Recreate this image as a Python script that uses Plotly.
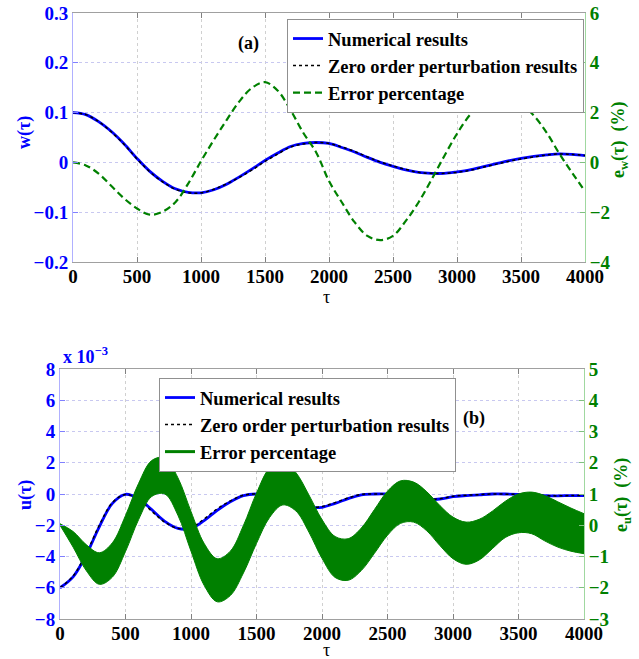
import plotly.graph_objects as go

# ---------------- data ----------------
# Panel (a)
tau_a = [0, 100, 200, 300, 400, 500, 600, 700, 800, 900, 1000,
         1100, 1200, 1300, 1400, 1500, 1600, 1700, 1800, 1900, 2000,
         2100, 2200, 2300, 2400, 2500, 2600, 2700, 2800, 2900, 3000,
         3100, 3200, 3300, 3400, 3500, 3600, 3700, 3800, 3900, 4000]
w_num = [0.100, 0.096, 0.082, 0.062, 0.037, 0.008, -0.018, -0.038, -0.053, -0.060, -0.061,
         -0.055, -0.044, -0.029, -0.013, 0.004, 0.019, 0.032, 0.038, 0.040, 0.038,
         0.030, 0.021, 0.010, 0.000, -0.008, -0.015, -0.020, -0.022, -0.022, -0.019,
         -0.015, -0.009, -0.003, 0.003, 0.008, 0.012, 0.015, 0.017, 0.016, 0.0135]
w_zero = [0.100, 0.096, 0.082, 0.061, 0.036, 0.007, -0.019, -0.039, -0.054, -0.061, -0.061,
          -0.054, -0.043, -0.030, -0.015, 0.002, 0.017, 0.031, 0.037, 0.040, 0.038,
          0.031, 0.022, 0.011, 0.001, -0.007, -0.014, -0.020, -0.022, -0.022, -0.020,
          -0.016, -0.010, -0.004, 0.002, 0.007, 0.011, 0.015, 0.017, 0.016, 0.014]
e_w = [0.0, -0.12, -0.45, -0.95, -1.45, -1.85, -2.1, -1.98, -1.6, -0.85, 0.05,
       0.9, 1.7, 2.45, 3.0, 3.22, 2.88, 2.1, 1.18, 0.4, -0.75,
       -1.6, -2.4, -2.95, -3.12, -2.95, -2.35, -1.6, -0.7, 0.25, 1.15,
       1.9, 2.4, 2.65, 2.63, 2.35, 1.88, 1.2, 0.35, -0.42, -1.16]

# Panel (b)  (u in units of 1e-3)
tau_b = tau_a
u_num = [-6.0, -5.3, -3.9, -2.1, -0.6, -0.02, -0.3, -1.0, -1.75, -2.2, -2.2,
         -1.7, -1.05, -0.5, -0.1, 0.0, -0.1, -0.35, -0.65, -0.85, -0.85,
         -0.6, -0.3, -0.05, 0.0, 0.0, -0.1, -0.25, -0.35, -0.32, -0.17,
         -0.1, -0.05, 0.0, 0.0, -0.02, -0.05, -0.1, -0.12, -0.1, -0.1]
u_zero = [-6.0, -5.25, -3.8, -2.0, -0.55, -0.03, -0.35, -1.1, -1.8, -2.2, -2.15,
          -1.6, -0.95, -0.45, -0.08, 0.0, -0.12, -0.4, -0.7, -0.85, -0.8,
          -0.55, -0.25, -0.03, 0.0, -0.02, -0.12, -0.28, -0.36, -0.3, -0.15,
          -0.08, -0.04, 0.0, -0.01, -0.03, -0.07, -0.11, -0.12, -0.1, -0.09]
# envelope of the rapidly oscillating error e_u (right axis, %)
e_u_upper = [0.05, -0.2, -0.62, -0.88, -0.56, 0.31, 1.34, 2.07, 2.16, 1.52, 0.44,
             -0.58, -1.07, -0.83, -0.01, 1.03, 1.83, 2.04, 1.69, 0.97, 0.18,
             -0.36, -0.43, -0.09, 0.50, 1.09, 1.42, 1.38, 1.07, 0.63, 0.26,
             0.1, 0.19, 0.45, 0.77, 1.0, 1.06, 0.95, 0.75, 0.55, 0.37]
e_u_lower = [0.0, -0.7, -1.45, -1.89, -1.66, -0.84, 0.18, 0.92, 1.0, 0.32, -0.83,
             -1.92, -2.45, -2.25, -1.53, -0.58, 0.25, 0.65, 0.46, -0.22, -1.06,
             -1.67, -1.76, -1.45, -0.9, -0.32, 0.06, 0.10, -0.18, -0.65, -1.07,
             -1.25, -1.11, -0.75, -0.39, -0.24, -0.27, -0.5, -0.7, -0.83, -0.91]

x_ticks = [0, 500, 1000, 1500, 2000, 2500, 3000, 3500, 4000]
names = ["Numerical results", "Zero order perturbation results", "Error percentage"]

# ---------------- style ----------------
W, H = 639, 659
FONT = "Liberation Serif"
BLUE = "#0000ff"
GREEN = "#008000"
TICK = 19


def px_x(p):
    return p / W


def px_y(p):
    return 1 - p / H


fig = go.Figure()

# Panel (a)
fig.add_trace(go.Scatter(x=tau_a, y=w_num, mode="lines", name=names[0],
                         line=dict(color=BLUE, width=2.8, shape="spline"),
                         xaxis="x", yaxis="y", legend="legend"))
fig.add_trace(go.Scatter(x=tau_a, y=w_zero, mode="lines", name=names[1],
                         line=dict(color="black", width=1.5, dash="dot", shape="spline"),
                         xaxis="x", yaxis="y", legend="legend"))
fig.add_trace(go.Scatter(x=tau_a, y=e_w, mode="lines", name=names[2],
                         line=dict(color=GREEN, width=2.2, dash="7px,4px", shape="spline"),
                         xaxis="x", yaxis="y2", legend="legend"))

# Panel (b)
fig.add_trace(go.Scatter(x=tau_b, y=u_num, mode="lines", name=names[0],
                         line=dict(color=BLUE, width=2.8, shape="spline"),
                         xaxis="x2", yaxis="y3", legend="legend2"))
fig.add_trace(go.Scatter(x=tau_b, y=u_zero, mode="lines", name=names[1],
                         line=dict(color="black", width=1.5, dash="dot", shape="spline"),
                         xaxis="x2", yaxis="y3", legend="legend2"))
fig.add_trace(go.Scatter(x=tau_b, y=e_u_lower, mode="lines", showlegend=False,
                         line=dict(color=GREEN, width=1, shape="spline"),
                         xaxis="x2", yaxis="y4", hoverinfo="skip"))
fig.add_trace(go.Scatter(x=tau_b, y=e_u_upper, mode="lines", showlegend=False,
                         line=dict(color=GREEN, width=1, shape="spline"),
                         fill="tonexty", fillcolor=GREEN,
                         xaxis="x2", yaxis="y4", hoverinfo="skip"))
fig.add_trace(go.Scatter(x=[None], y=[None], mode="lines", name=names[2],
                         line=dict(color=GREEN, width=3),
                         xaxis="x2", yaxis="y4", legend="legend2"))

tickfont_x = dict(family=FONT, size=TICK, color="black", weight="bold")
grid_common = dict(showgrid=True, griddash="dot", gridwidth=1, automargin=False)


def xaxis(domain, anchor):
    return dict(domain=domain, anchor=anchor, range=[0, 4000], tickvals=x_ticks,
                ticks="inside", ticklen=5, tickcolor="#808080",
                showline=True, linecolor="#a0a0a0", mirror="ticks",
                gridcolor="#d0d0d0", tickfont=tickfont_x, zeroline=False,
                ticklabelstandoff=-3,
                **grid_common)


def yleft(domain, anchor, rng, dtick):
    return dict(domain=domain, anchor=anchor, range=rng, dtick=dtick,
                ticks="inside", ticklen=5, tickcolor="#8080ff",
                showline=True, linecolor="#b0b0ff", zeroline=False,
                gridcolor="#c8c8f0",
                tickfont=dict(family=FONT, size=TICK, color=BLUE, weight="bold"),
                **grid_common)


def yright(over, anchor, rng, dtick):
    return dict(overlaying=over, side="right", anchor=anchor, range=rng, dtick=dtick,
                ticks="inside", ticklen=5, tickcolor="#80c080",
                showline=True, linecolor="#a0d8a0", zeroline=False, showgrid=False,
                automargin=False,
                tickfont=dict(family=FONT, size=TICK, color=GREEN, weight="bold"))


top_dom_x = [px_x(73), px_x(585)]
top_dom_y = [px_y(262), px_y(13)]
bot_dom_x = [px_x(60), px_x(584)]
bot_dom_y = [px_y(619), px_y(369)]

leg_font = dict(family=FONT, size=18.5, color="black", weight="bold")

fig.update_layout(
    width=W, height=H,
    margin=dict(l=0, r=0, t=0, b=0, autoexpand=False),
    paper_bgcolor="white", plot_bgcolor="white",
    font=dict(family=FONT, color="black"),
    showlegend=True,
    xaxis=xaxis(top_dom_x, "y"),
    yaxis=yleft(top_dom_y, "x", [-0.2, 0.3], 0.1),
    yaxis2=yright("y", "x", [-4, 6], 2),
    xaxis2=xaxis(bot_dom_x, "y3"),
    yaxis3=yleft(bot_dom_y, "x2", [-8, 8], 2),
    yaxis4=yright("y3", "x2", [-3, 5], 1),
    legend=dict(x=px_x(287), y=px_y(19), xanchor="left", yanchor="top",
                bgcolor="white", bordercolor="#909090", borderwidth=1,
                font=leg_font, itemwidth=30, tracegroupgap=0, traceorder="normal"),
    legend2=dict(x=px_x(159), y=px_y(378), xanchor="left", yanchor="top",
                 bgcolor="white", bordercolor="#909090", borderwidth=1,
                 font=leg_font, itemwidth=30, tracegroupgap=0, traceorder="normal"),
)

ann_font_bold = dict(family=FONT, size=18, weight="bold")
annotations = [
    dict(text="(a)", x=px_x(248), y=px_y(43), font=dict(color="black", **ann_font_bold)),
    dict(text="(b)", x=px_x(474), y=px_y(418), font=dict(color="black", **ann_font_bold)),
    dict(text="w(τ)", x=px_x(24), y=px_y(133), textangle=-90, font=dict(color=BLUE, **ann_font_bold)),
    dict(text="e<sub>w</sub>(τ)  (%)", x=px_x(619), y=px_y(140), textangle=-90,
         font=dict(color=GREEN, **ann_font_bold)),
    dict(text="u(τ)", x=px_x(25), y=px_y(495), textangle=-90, font=dict(color=BLUE, **ann_font_bold)),
    dict(text="e<sub>u</sub>(τ)  (%)", x=px_x(622), y=px_y(495), textangle=-90,
         font=dict(color=GREEN, **ann_font_bold)),
    dict(text="τ", x=px_x(326), y=px_y(297), font=dict(family=FONT, size=18, color="black")),
    dict(text="τ", x=px_x(326), y=px_y(650), font=dict(family=FONT, size=18, color="black")),
    dict(text="x 10<sup>−3</sup>", x=px_x(61), y=px_y(355), xanchor="left",
         font=dict(family=FONT, size=18, color=BLUE, weight="bold")),
]
for a in annotations:
    a.setdefault("xanchor", "center")
    a.update(xref="paper", yref="paper", showarrow=False, yanchor="middle")
fig.update_layout(annotations=annotations)

fig.write_html("out.html", config={"displayModeBar": False},
               post_script="document.body.style.margin='0';document.body.style.overflow='hidden';")
